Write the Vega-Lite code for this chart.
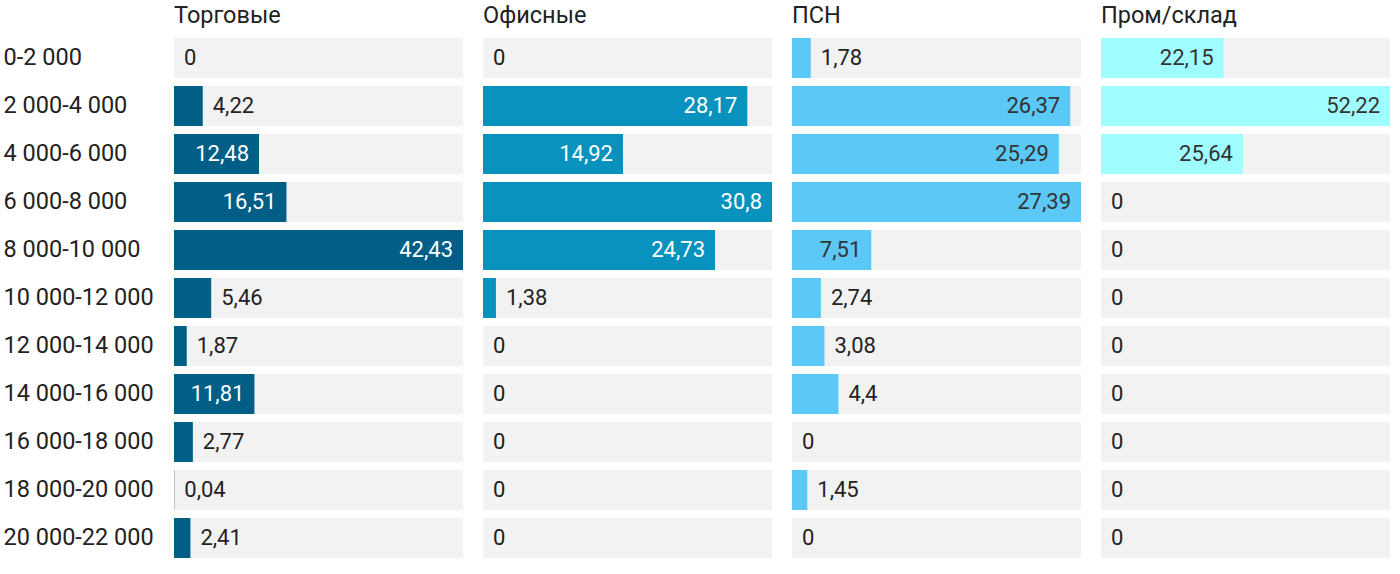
{
  "$schema": "https://vega.github.io/schema/vega-lite/v6.json",
  "padding": {"left": 3, "top": 3, "right": 0, "bottom": 0},
  "config": {
    "locale": {"number": {"decimal": ",", "thousands": " ", "grouping": [3], "currency": ["", ""]}},
    "view": {"stroke": null},
    "font": "Roboto"
  },
  "data": {"values": [
    {"type": "Торговые", "range": "0-2 000", "value": 0},
    {"type": "Торговые", "range": "2 000-4 000", "value": 4.22},
    {"type": "Торговые", "range": "4 000-6 000", "value": 12.48},
    {"type": "Торговые", "range": "6 000-8 000", "value": 16.51},
    {"type": "Торговые", "range": "8 000-10 000", "value": 42.43},
    {"type": "Торговые", "range": "10 000-12 000", "value": 5.46},
    {"type": "Торговые", "range": "12 000-14 000", "value": 1.87},
    {"type": "Торговые", "range": "14 000-16 000", "value": 11.81},
    {"type": "Торговые", "range": "16 000-18 000", "value": 2.77},
    {"type": "Торговые", "range": "18 000-20 000", "value": 0.04},
    {"type": "Торговые", "range": "20 000-22 000", "value": 2.41},
    {"type": "Офисные", "range": "0-2 000", "value": 0},
    {"type": "Офисные", "range": "2 000-4 000", "value": 28.17},
    {"type": "Офисные", "range": "4 000-6 000", "value": 14.92},
    {"type": "Офисные", "range": "6 000-8 000", "value": 30.8},
    {"type": "Офисные", "range": "8 000-10 000", "value": 24.73},
    {"type": "Офисные", "range": "10 000-12 000", "value": 1.38},
    {"type": "Офисные", "range": "12 000-14 000", "value": 0},
    {"type": "Офисные", "range": "14 000-16 000", "value": 0},
    {"type": "Офисные", "range": "16 000-18 000", "value": 0},
    {"type": "Офисные", "range": "18 000-20 000", "value": 0},
    {"type": "Офисные", "range": "20 000-22 000", "value": 0},
    {"type": "ПСН", "range": "0-2 000", "value": 1.78},
    {"type": "ПСН", "range": "2 000-4 000", "value": 26.37},
    {"type": "ПСН", "range": "4 000-6 000", "value": 25.29},
    {"type": "ПСН", "range": "6 000-8 000", "value": 27.39},
    {"type": "ПСН", "range": "8 000-10 000", "value": 7.51},
    {"type": "ПСН", "range": "10 000-12 000", "value": 2.74},
    {"type": "ПСН", "range": "12 000-14 000", "value": 3.08},
    {"type": "ПСН", "range": "14 000-16 000", "value": 4.4},
    {"type": "ПСН", "range": "16 000-18 000", "value": 0},
    {"type": "ПСН", "range": "18 000-20 000", "value": 1.45},
    {"type": "ПСН", "range": "20 000-22 000", "value": 0},
    {"type": "Пром/склад", "range": "0-2 000", "value": 22.15},
    {"type": "Пром/склад", "range": "2 000-4 000", "value": 52.22},
    {"type": "Пром/склад", "range": "4 000-6 000", "value": 25.64},
    {"type": "Пром/склад", "range": "6 000-8 000", "value": 0},
    {"type": "Пром/склад", "range": "8 000-10 000", "value": 0},
    {"type": "Пром/склад", "range": "10 000-12 000", "value": 0},
    {"type": "Пром/склад", "range": "12 000-14 000", "value": 0},
    {"type": "Пром/склад", "range": "14 000-16 000", "value": 0},
    {"type": "Пром/склад", "range": "16 000-18 000", "value": 0},
    {"type": "Пром/склад", "range": "18 000-20 000", "value": 0},
    {"type": "Пром/склад", "range": "20 000-22 000", "value": 0}
  ]},
  "transform": [
    {"joinaggregate": [{"op": "max", "field": "value", "as": "max"}], "groupby": ["type"]}
  ],
  "facet": {
    "column": {
      "field": "type",
      "type": "nominal",
      "sort": ["Торговые", "Офисные", "ПСН", "Пром/склад"],
      "title": null,
      "header": {
        "labelFontSize": 23.5,
        "labelAlign": "left",
        "labelAnchor": "start",
        "labelColor": "#222222",
        "labelFont": "Roboto",
        "labelPadding": 7
      }
    }
  },
  "spacing": 20,
  "resolve": {"scale": {"x": "independent"}},
  "spec": {
    "width": 289,
    "height": {"step": 48},
    "encoding": {
      "y": {
        "field": "range",
        "type": "nominal",
        "title": null,
        "sort": ["0-2 000", "2 000-4 000", "4 000-6 000", "6 000-8 000", "8 000-10 000", "10 000-12 000", "12 000-14 000", "14 000-16 000", "16 000-18 000", "18 000-20 000", "20 000-22 000"],
        "scale": {"paddingInner": 0.1667, "paddingOuter": 0.0833},
        "axis": {
          "domain": false,
          "ticks": false,
          "tickSize": 0,
          "labelAlign": "left",
          "labelPadding": 171,
          "labelFontSize": 23.5,
          "labelColor": "#222222",
          "labelFont": "Roboto"
        }
      }
    },
    "layer": [
      {
        "mark": {"type": "bar", "color": "#f2f2f2"},
        "encoding": {
          "x": {"field": "max", "type": "quantitative", "axis": null, "scale": {"nice": false, "zero": true}}
        }
      },
      {
        "mark": {"type": "bar"},
        "encoding": {
          "x": {"field": "value", "type": "quantitative", "axis": null},
          "color": {
            "field": "type",
            "type": "nominal",
            "legend": null,
            "scale": {
              "domain": ["Торговые", "Офисные", "ПСН", "Пром/склад"],
              "range": ["#005e87", "#0892bd", "#5bc8f5", "#9ffcff"]
            }
          }
        }
      },
      {
        "transform": [{"filter": "datum.value / datum.max > 0.2"}],
        "mark": {"type": "text", "align": "right", "dx": -10, "fontSize": 22, "font": "Roboto"},
        "encoding": {
          "x": {"field": "value", "type": "quantitative", "axis": null},
          "text": {"field": "value", "type": "quantitative", "format": ".2~f"},
          "color": {
            "condition": {"test": "datum.type === 'Торговые' || datum.type === 'Офисные'", "value": "#ffffff"},
            "value": "#333333"
          }
        }
      },
      {
        "transform": [{"filter": "datum.value / datum.max <= 0.2"}],
        "mark": {"type": "text", "align": "left", "dx": 10, "fontSize": 22, "font": "Roboto", "color": "#222222"},
        "encoding": {
          "x": {"field": "value", "type": "quantitative", "axis": null},
          "text": {"field": "value", "type": "quantitative", "format": ".2~f"}
        }
      }
    ]
  }
}
